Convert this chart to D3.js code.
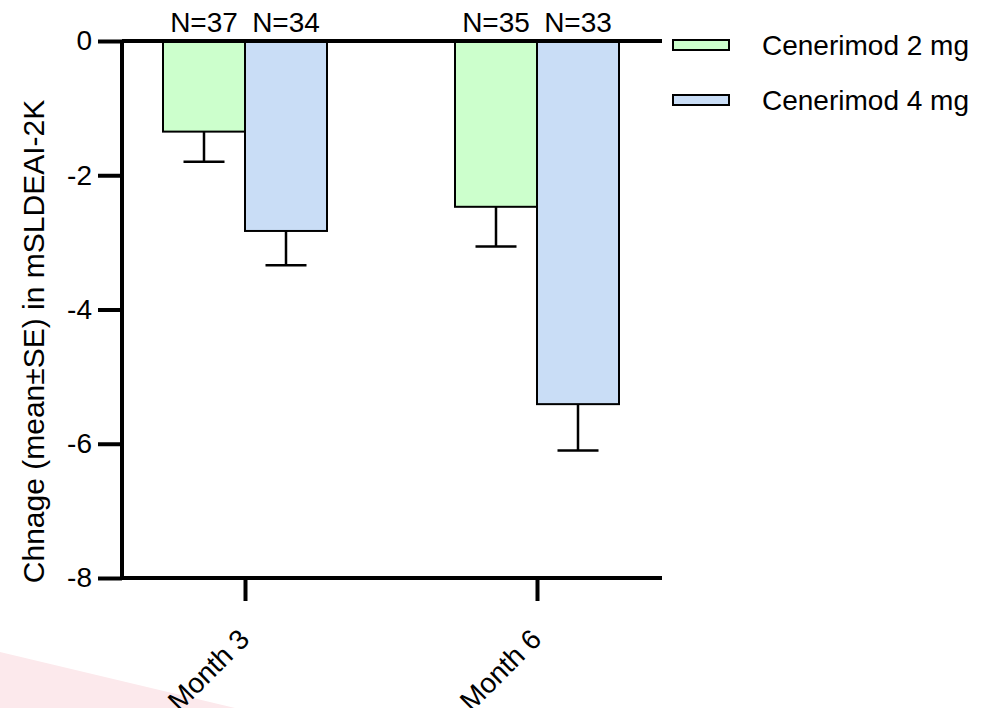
<!DOCTYPE html>
<html>
<head>
<meta charset="utf-8">
<script src="https://cdn.jsdelivr.net/npm/d3@7"></script>
<style>
  body { margin: 0; background: #fff; }
  svg { display: block; font-family: "Liberation Sans", Arial, sans-serif; }
</style>
</head>
<body>
<svg id="chart" width="988" height="708"></svg>
<script>
// Data
const months = ['Month 3', 'Month 6'];
const series = ['Cenerimod 2 mg', 'Cenerimod 4 mg'];
const meanChange = [[-1.35, -2.47], [-2.83, -5.41]]; // [series][month]
const seChange = [[0.45, 0.59], [0.51, 0.69]];
const nLabels = [['N=37', 'N=35'], ['N=34', 'N=33']];
const yTicks = [0, -2, -4, -6, -8];
const colors = ['#ccffcc', '#c9ddf6'];

const svg = d3.select('#chart');
const fontSize = '28px';

// faint pink shape in the lower left corner
svg.append('path')
    .attr('d', 'M0,652 L235,708 L0,708 Z')
    .attr('fill', '#fce9ec');

// Scales
const y = d3.scaleLinear().domain([-8, 0]).range([578, 41]);
const x0 = d3.scalePoint().domain(months).range([245, 537]);
const x1 = d3.scaleBand().domain(series).range([-82, 82]);

const axisLeftX = 122;
const axisRightX = 662;

// Bars
const bars = [];
series.forEach((s, si) => {
    months.forEach((m, mi) => {
        bars.push({s, si, m, v: meanChange[si][mi], se: seChange[si][mi], n: nLabels[si][mi]});
    });
});

const g = svg.append('g');
const bw = x1.bandwidth();

g.selectAll('.bar')
    .data(bars)
    .enter()
    .append('rect')
    .attr('class', 'bar')
    .attr('x', d => x0(d.m) + x1(d.s))
    .attr('y', y(0))
    .attr('width', bw)
    .attr('height', d => y(d.v) - y(0))
    .attr('fill', d => colors[d.si])
    .attr('stroke', '#000')
    .attr('stroke-width', 2);

// Error bars (downward only)
g.selectAll('.err')
    .data(bars)
    .enter()
    .append('path')
    .attr('class', 'err')
    .attr('d', d => {
        const cx = x0(d.m) + x1(d.s) + bw / 2;
        const y1 = y(d.v), y2 = y(d.v - d.se);
        return `M${cx},${y1}V${y2}M${cx - bw / 4},${y2}H${cx + bw / 4}`;
    })
    .attr('fill', 'none')
    .attr('stroke', '#000')
    .attr('stroke-width', 2.5);

// N labels
g.selectAll('.nlab')
    .data(bars)
    .enter()
    .append('text')
    .attr('class', 'nlab')
    .attr('x', d => x0(d.m) + x1(d.s) + bw / 2)
    .attr('y', 32)
    .attr('text-anchor', 'middle')
    .style('font-size', fontSize)
    .text(d => d.n);

// Y axis
const yAxis = svg.append('g')
    .attr('transform', `translate(${axisLeftX},0)`)
    .call(d3.axisLeft(y).tickValues(yTicks).tickSize(24).tickPadding(6).tickFormat(d3.format('d')));
yAxis.selectAll('path, line').attr('stroke', '#000').attr('stroke-width', 4);
yAxis.select('.domain').attr('d', `M0,${y(0)}V${y(-8) + 2}`);
yAxis.selectAll('text').style('font-size', fontSize).attr('fill', '#000')
    .text(d => d < 0 ? '-' + Math.abs(d) : d);

// zero line across the plot
svg.append('line')
    .attr('x1', axisLeftX).attr('x2', axisRightX)
    .attr('y1', y(0)).attr('y2', y(0))
    .attr('stroke', '#000').attr('stroke-width', 4);

// X axis at the bottom
const xAxis = svg.append('g')
    .attr('transform', `translate(0,${y(-8)})`)
    .call(d3.axisBottom(x0).tickSize(23).tickFormat(''));
xAxis.select('.domain').remove();
xAxis.selectAll('line').attr('stroke', '#000').attr('stroke-width', 4);
svg.append('line')
    .attr('x1', axisLeftX).attr('x2', axisRightX)
    .attr('y1', y(-8)).attr('y2', y(-8))
    .attr('stroke', '#000').attr('stroke-width', 4);

// X tick labels, rotated (cut by the bottom edge, as in the reference)
svg.selectAll('.xlab')
    .data(months)
    .enter()
    .append('text')
    .attr('class', 'xlab')
    .attr('transform', d => `translate(${x0(d) + 6},${y(-8) + 63}) rotate(-45)`)
    .attr('text-anchor', 'end')
    .style('font-size', fontSize)
    .text(d => d);

// Y axis title
svg.append('text')
    .attr('transform', `translate(44,${(y(0) + y(-8)) / 2 + 32}) rotate(-90)`)
    .attr('text-anchor', 'middle')
    .style('font-size', '30px')
    .text('Chnage (mean±SE) in mSLDEAI-2K');

// Legend
const legend = svg.append('g').attr('transform', 'translate(673,40)');
const item = legend.selectAll('.item')
    .data(series)
    .enter()
    .append('g')
    .attr('transform', (d, i) => `translate(0,${i * 55})`);
item.append('rect')
    .attr('width', 56).attr('height', 10)
    .attr('fill', (d, i) => colors[i])
    .attr('stroke', '#000').attr('stroke-width', 2);
item.append('text')
    .attr('x', 89).attr('y', 5).attr('dy', '0.35em')
    .style('font-size', fontSize)
    .text(d => d);
</script>
</body>
</html>
